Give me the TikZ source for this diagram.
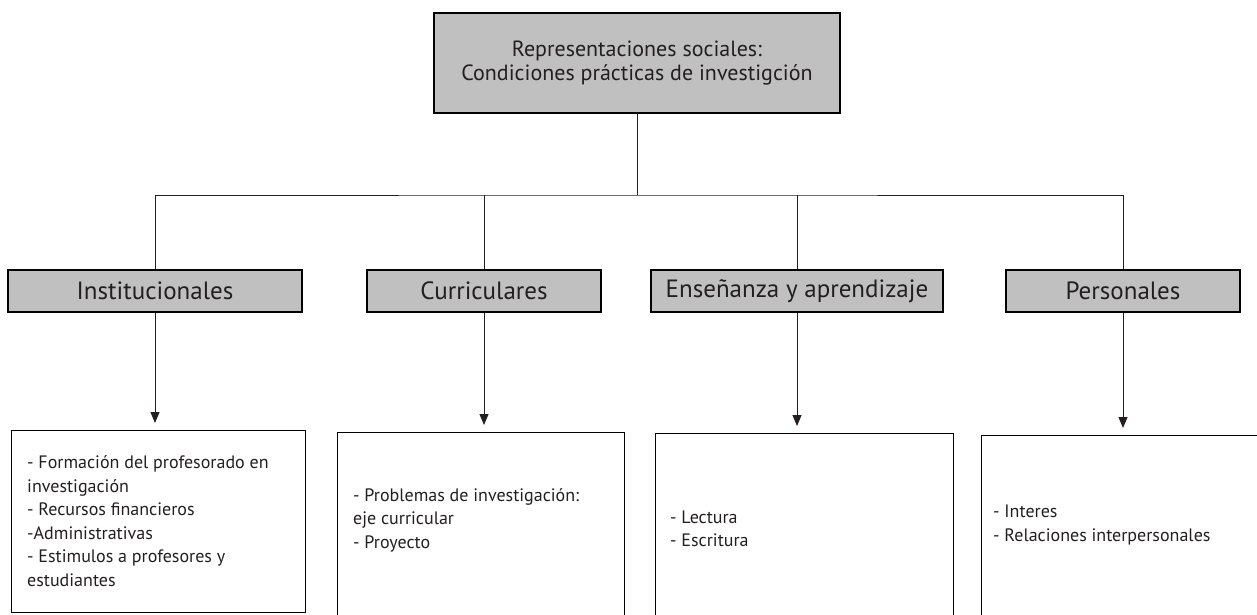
\documentclass[tikz,border=0pt]{standalone}
\usepackage{fontspec}
\setmainfont{PT Sans}
\usepackage{tikz}
\usetikzlibrary{arrows.meta}

\definecolor{gris}{HTML}{C0C0C0}
\definecolor{tinta}{HTML}{231F20}

\tikzset{
    caja/.style={draw=black, line width=1.6pt, fill=gris, text=tinta, inner sep=0pt},
    lista/.style={draw=black, line width=1.4pt, inner sep=0pt, anchor=north west},
    textolista/.style={text=tinta, anchor=west, align=left, inner sep=0pt,
        font=\fontsize{18}{23.5}\selectfont},
    enlace/.style={draw=tinta, line width=1pt},
    flecha/.style={enlace, -{Triangle[width=9pt,length=11pt]}, shorten >=7pt}
}

\begin{document}
\begin{tikzpicture}[x=1pt, y=-1pt]
    \useasboundingbox (0,0) rectangle (1257,614);

    % caja principal
    \node[caja, minimum width=406pt, minimum height=100pt, align=center,
        font=\fontsize{22}{24.5}\selectfont] (repr) at (637,63)
        {Representaciones sociales:\\Condiciones prácticas de investigción};

    % categorias
    \foreach \nombre/\x/\ancho/\texto in {inst/155/294/Institucionales,
            curr/484/234/Curriculares,
            ense/797/292/Enseñanza y aprendizaje,
            pers/1123/234/Personales}
        \node[caja, minimum width=\ancho pt, minimum height=42pt,
            font=\fontsize{25}{28}\selectfont] (\nombre) at (\x,291) {\texto};

    % listas
    \node[lista, minimum width=294pt, minimum height=182pt] (instlista) at (11,430) {};
    \node[lista, minimum width=287pt, minimum height=190pt] (currlista) at (337,432) {};
    \node[lista, minimum width=298pt, minimum height=190pt] (enselista) at (655,433) {};
    \node[lista, minimum width=290pt, minimum height=190pt] (perslista) at (981,435) {};

    \node[textolista] (insttexto) at (27,521) {- Formación del profesorado en\\investigación\\- Recursos financieros\\-Administrativas\\- Estimulos a profesores y\\estudiantes};
    \node[textolista] (currtexto) at (353,520) {- Problemas de investigación:\\eje curricular\\- Proyecto};
    \node[textolista] (ensetexto) at (670,529) {- Lectura\\- Escritura};
    \node[textolista] (perstexto) at (993,525) {- Interes\\- Relaciones interpersonales};

    % conexiones
    \coordinate (bus) at (repr.south |- 0,195);
    \draw[enlace] (repr.south) -- (bus);
    \draw[enlace] (inst.north) |- (bus) -| (pers.north);
    \draw[enlace] (curr.north) -- (curr.north |- bus);
    \draw[enlace] (ense.north) -- (ense.north |- bus);

    % flechas
    \foreach \nombre in {inst,curr,ense,pers}
        \draw[flecha] (\nombre.south) -- (\nombre.south |- \nombre lista.north);

\end{tikzpicture}
\end{document}
